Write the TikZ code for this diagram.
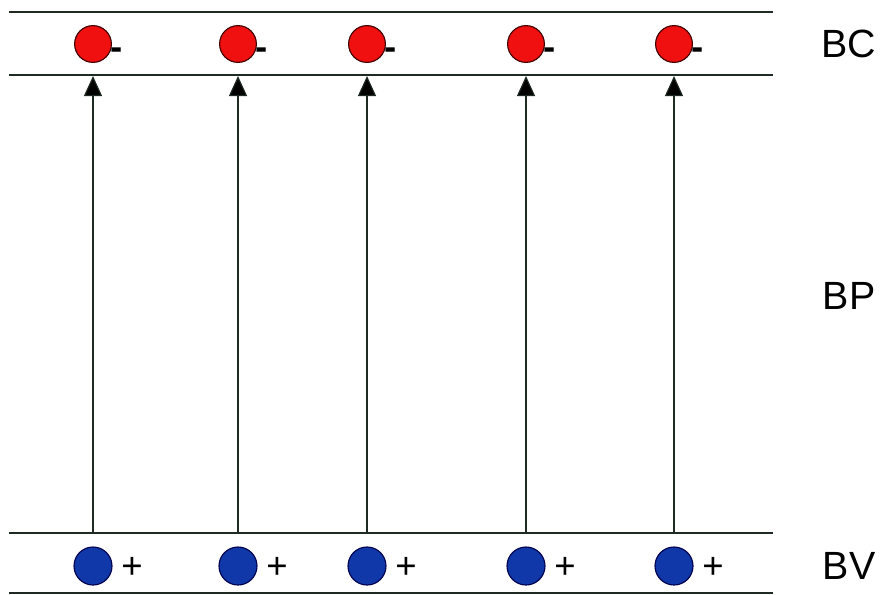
\documentclass[tikz,border=0pt]{standalone}
\usepackage{fontspec}
\setmainfont{Liberation Sans}
\usetikzlibrary{arrows.meta}
\definecolor{elecRed}{HTML}{F01010}
\definecolor{holeBlue}{HTML}{1038A8}
\definecolor{lineDark}{HTML}{1E2A22}

\begin{document}
\begin{tikzpicture}[x=0.025cm, y=-0.025cm,
    bandLine/.style={line width=1.6pt, draw=lineDark},
    elecNode/.style={circle, minimum size=0.92cm, inner sep=0pt, fill=elecRed, draw=black!75!red, line width=0.8pt},
    holeNode/.style={circle, minimum size=0.95cm, inner sep=0pt, fill=holeBlue, draw=black!70!blue, line width=0.8pt},
    signText/.style={inner sep=0pt, font=\fontsize{26}{30}\selectfont},
    bandLabel/.style={font=\fontsize{28}{32}\selectfont, inner sep=0pt},
    arrowJump/.style={-{Triangle[length=0.5cm, width=0.45cm, fill=black]}, line width=0.8pt, draw=lineDark}
]
    \useasboundingbox (0,0) rectangle (882,594);

    % band edges
    \draw[bandLine] (9,12) -- (773,12);
    \draw[bandLine] (9,75) -- (773,75);
    \draw[bandLine] (9,533) -- (773,533);
    \draw[bandLine] (9,593) -- (773,593);

    % electrons, holes and transitions
    \foreach \i/\x in {1/93, 2/238, 3/367, 4/526, 5/674} {
        \node[elecNode] (e\i) at (\x,44) {};
        \node[signText, font=\fontsize{26}{30}\selectfont\bfseries] (m\i) at (\x+24,54) {-};
        \node[holeNode] (h\i) at (\x,566) {};
        \node[signText] (p\i) at (\x+39,568) {+};
        \coordinate (v\i) at (\x,533);
        \coordinate (c\i) at (\x,76);
        \draw[arrowJump] (v\i) -- (c\i);
    }

    \node[bandLabel] (bc) at (849,44) {BC};
    \node[bandLabel] (bp) at (849,296) {BP};
    \node[bandLabel] (bv) at (849,566) {BV};
\end{tikzpicture}
\end{document}
